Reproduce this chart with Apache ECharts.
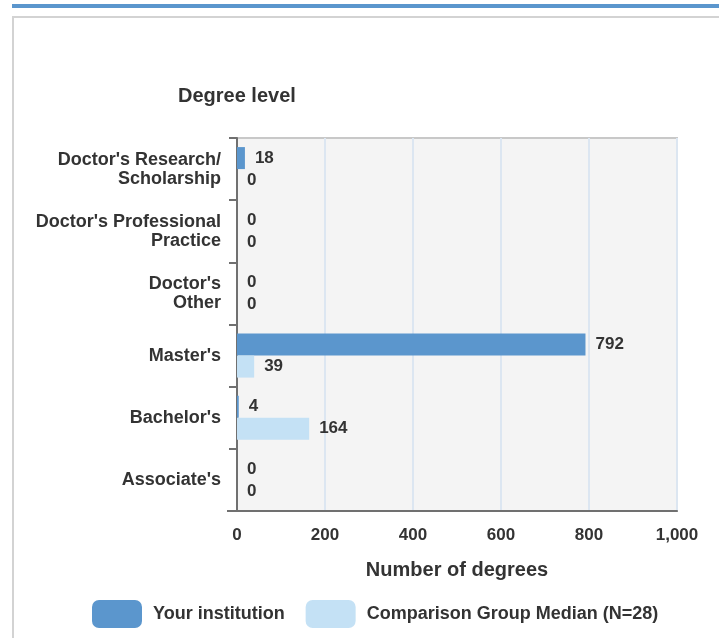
<!DOCTYPE html>
<html lang="en">
<head>
    <meta charset="UTF-8">
    <title>Degrees by level</title>
    <style>
        html, body { margin: 0; padding: 0; background: #fff; }
    </style>
</head>
<body>
<div id="main" style="width:719px;height:638px;"></div>
<script src="https://cdn.jsdelivr.net/npm/echarts@6/dist/echarts.min.js"></script>
<script>
    // data
    var levels = ["Doctor's Research/\nScholarship", "Doctor's Professional\nPractice", "Doctor's\nOther", "Master's", "Bachelor's", "Associate's"];
    var yourInstitution = [18, 0, 0, 792, 4, 0];
    var groupMedian = [0, 0, 0, 39, 164, 0];
    var seriesNames = ['Your institution', 'Comparison Group Median (N=28)'];
    var xTicks = [0, 200, 400, 600, 800, 1000];

    var font = 'Liberation Sans, Arial, sans-serif';
    var color = ['#5b96cd', '#c4e1f5'];

    var myChart = echarts.init(document.getElementById('main'));

    var labelStyle = {
        show: true,
        position: 'right',
        distance: 10,
        color: '#333',
        fontWeight: 'bold',
        fontSize: 17,
        fontFamily: font
    };

    var option = {
        backgroundColor: '#fff',
        animation: false,
        textStyle: { fontFamily: font },
        title: {
            text: 'Degree level',
            left: 178,
            top: 86,
            padding: 0,
            textStyle: {
                color: '#333',
                fontSize: 20,
                fontWeight: 'bold',
                fontFamily: font
            }
        },
        graphic: [
            { type: 'rect', shape: { x: 12, y: 4, width: 707, height: 4 }, style: { fill: '#5b96cd' } },
            { type: 'rect', shape: { x: 12, y: 16, width: 707, height: 2 }, style: { fill: '#d3d3d3' } },
            { type: 'rect', shape: { x: 12, y: 16, width: 2, height: 622 }, style: { fill: '#d3d3d3' } },
            // x-axis line runs a little past the y axis on the left
            { type: 'rect', shape: { x: 227, y: 510, width: 10, height: 2 }, style: { fill: '#707070' } }
        ],
        legend: {
            left: 92,
            top: 600,
            padding: 0,
            itemWidth: 50,
            itemHeight: 28,
            itemGap: 21,
            icon: 'roundRect',
            textStyle: {
                color: '#333',
                fontSize: 18,
                fontWeight: 'bold',
                fontFamily: font,
                padding: [0, 0, 0, 6]
            },
            data: seriesNames
        },
        grid: {
            left: 237,
            right: 42,
            top: 138,
            bottom: 127,
            show: true,
            backgroundColor: '#f4f4f4',
            borderColor: '#c8c8c8',
            borderWidth: 2
        },
        xAxis: {
            type: 'value',
            min: xTicks[0],
            max: xTicks[xTicks.length - 1],
            interval: 200,
            name: 'Number of degrees',
            nameLocation: 'middle',
            nameGap: 49,
            nameTextStyle: {
                color: '#333',
                fontSize: 20,
                fontWeight: 'bold',
                fontFamily: font
            },
            axisLine: { show: true, lineStyle: { color: '#707070', width: 2 } },
            axisTick: { show: false },
            axisLabel: {
                margin: 16,
                color: '#333',
                fontSize: 17,
                fontWeight: 'bold',
                fontFamily: font,
                formatter: function (v) { return v.toLocaleString('en-US'); }
            },
            splitLine: { show: true, lineStyle: { color: '#dce6f1', width: 2 } }
        },
        yAxis: {
            type: 'category',
            inverse: true,
            data: levels,
            axisLine: { show: true, lineStyle: { color: '#707070', width: 2 } },
            axisTick: { show: true, length: 8, lineStyle: { color: '#707070', width: 2 } },
            axisLabel: {
                margin: 16,
                color: '#333',
                fontSize: 18,
                fontWeight: 'bold',
                fontFamily: font,
                lineHeight: 19,
                align: 'right'
            }
        },
        series: [
            {
                name: seriesNames[0],
                type: 'bar',
                barWidth: 22,
                barGap: '0%',
                itemStyle: { color: color[0] },
                label: labelStyle,
                data: yourInstitution
            },
            {
                name: seriesNames[1],
                type: 'bar',
                barWidth: 22,
                itemStyle: { color: color[1] },
                label: labelStyle,
                data: groupMedian
            }
        ]
    };
    myChart.setOption(option);
</script>
</body>
</html>
